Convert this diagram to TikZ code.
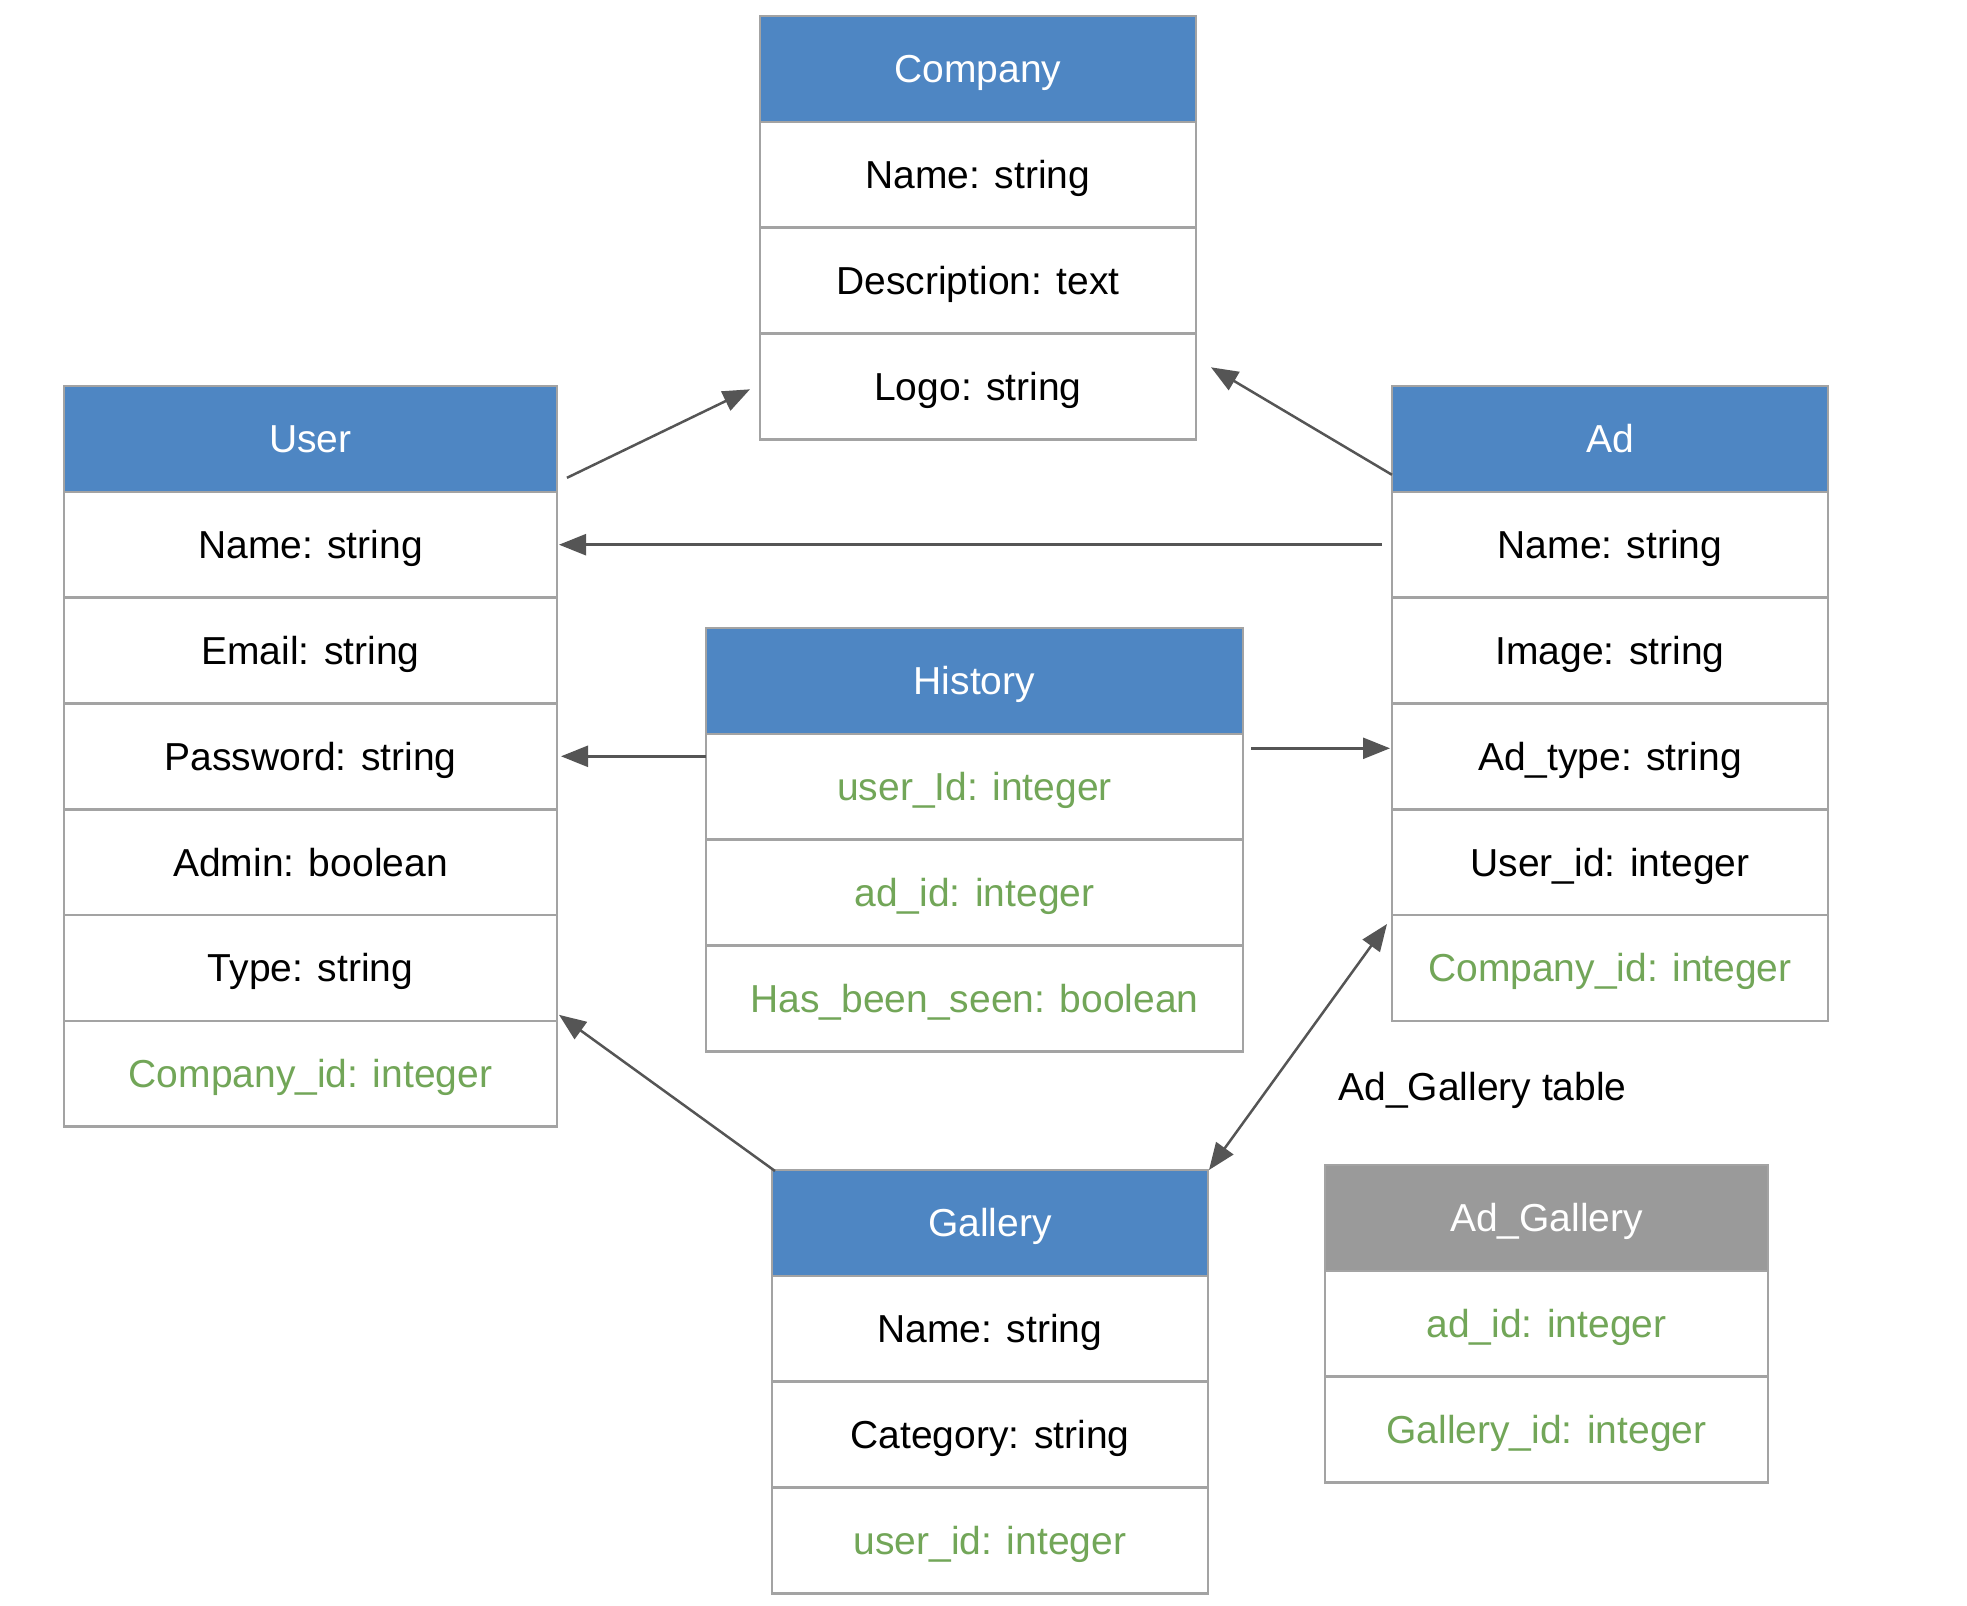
\documentclass[tikz,border=0pt]{standalone}
\usepackage{fontspec}
\setmainfont{Liberation Sans}
\usetikzlibrary{arrows.meta,positioning,calc}
\definecolor{hblue}{HTML}{4E86C3}
\definecolor{hgray}{HTML}{9A9A9A}
\definecolor{bgray}{HTML}{A3A3A3}
\definecolor{fkgreen}{HTML}{72A658}
\definecolor{arr}{HTML}{555555}
\begin{document}
\begin{tikzpicture}[x=0.5pt,y=-0.5pt,
  cell/.style={draw=bgray, line width=1.3pt, rectangle, inner sep=0pt, outer sep=0pt,
    minimum height=52.9pt, text height=14pt, text depth=0pt,
    font=\fontsize{19.5}{23}\selectfont, text=black, fill=white},
  hdr/.style={cell, fill=hblue, text=white},
  ghdr/.style={cell, fill=hgray, text=white},
  fk/.style={cell, text=fkgreen},
  link/.style={draw=arr, line width=1.25pt, -{Triangle[length=13.5pt,width=10.5pt]}},
  dlink/.style={draw=arr, line width=1.25pt, {Triangle[length=13.5pt,width=10.5pt]}-{Triangle[length=13.5pt,width=10.5pt]}},
  node distance=0pt
]
\useasboundingbox (0,0) rectangle (1967,1606);

% Company
\begin{scope}[every node/.append style={minimum width=218pt}]
\node[hdr, anchor=north west] (comp-h) at (760,16) {Company};
\node[cell, below=of comp-h] (comp-1) {Name: string};
\node[cell, below=of comp-1] (comp-2) {Description: text};
\node[cell, below=of comp-2] (comp-3) {Logo: string};
\end{scope}

% User
\begin{scope}[every node/.append style={minimum width=246.5pt}]
\node[hdr, anchor=north west] (user-h) at (64,386) {User};
\node[cell, below=of user-h] (user-1) {Name: string};
\node[cell, below=of user-1] (user-2) {Email: string};
\node[cell, below=of user-2] (user-3) {Password: string};
\node[cell, below=of user-3] (user-4) {Admin: boolean};
\node[cell, below=of user-4] (user-5) {Type: string};
\node[fk, below=of user-5] (user-6) {Company\_id: integer};
\end{scope}

% Ad
\begin{scope}[every node/.append style={minimum width=218pt}]
\node[hdr, anchor=north west] (ad-h) at (1392,386) {Ad};
\node[cell, below=of ad-h] (ad-1) {Name: string};
\node[cell, below=of ad-1] (ad-2) {Image: string};
\node[cell, below=of ad-2] (ad-3) {Ad\_type: string};
\node[cell, below=of ad-3] (ad-4) {User\_id: integer};
\node[fk, below=of ad-4] (ad-5) {Company\_id: integer};
\end{scope}

% History
\begin{scope}[every node/.append style={minimum width=268.5pt}]
\node[hdr, anchor=north west] (hist-h) at (706,628) {History};
\node[fk, below=of hist-h] (hist-1) {user\_Id: integer};
\node[fk, below=of hist-1] (hist-2) {ad\_id: integer};
\node[fk, below=of hist-2] (hist-3) {Has\_been\_seen: boolean};
\end{scope}

% Gallery
\begin{scope}[every node/.append style={minimum width=218pt}]
\node[hdr, anchor=north west] (gal-h) at (772,1170) {Gallery};
\node[cell, below=of gal-h] (gal-1) {Name: string};
\node[cell, below=of gal-1] (gal-2) {Category: string};
\node[fk, below=of gal-2] (gal-3) {user\_id: integer};
\end{scope}

% Ad_Gallery
\node[anchor=base west, inner sep=0pt, font=\fontsize{19.5}{23}\selectfont] (agl) at (1338,1100) {Ad\_Gallery table};
\begin{scope}[every node/.append style={minimum width=221.5pt}]
\node[ghdr, anchor=north west] (ag-h) at (1325,1165) {Ad\_Gallery};
\node[fk, below=of ag-h] (ag-1) {ad\_id: integer};
\node[fk, below=of ag-1] (ag-2) {Gallery\_id: integer};
\end{scope}

% connectors
\draw[link] ($(user-h.south east)+(10,-14)$) -- ($(comp-3.west)+(-10,3)$);
\draw[link] ($(ad-h.south west)+(0,-17)$) -- ($(comp-3.east)+(15,-19)$);
\draw[link, shorten <=5pt, shorten >=1pt] (ad-1.west) -- (user-1.east);
\draw[link, shorten >=2pt] (hist-1.west |- user-3.east) -- (user-3.east);
\draw[link, shorten <=4pt, shorten >=1pt] ($(hist-1.east |- ad-3.west)+(0,-8)$) -- ($(ad-3.west)+(0,-8)$);
\draw[link] ($(gal-h.north west)+(3,1)$) -- ($(user-6.north east)+(2,-6)$);
\draw[dlink] ($(ad-5.north west)+(-5,9)$) -- ($(gal-h.north east)+(1,0)$);
\end{tikzpicture}
\end{document}
